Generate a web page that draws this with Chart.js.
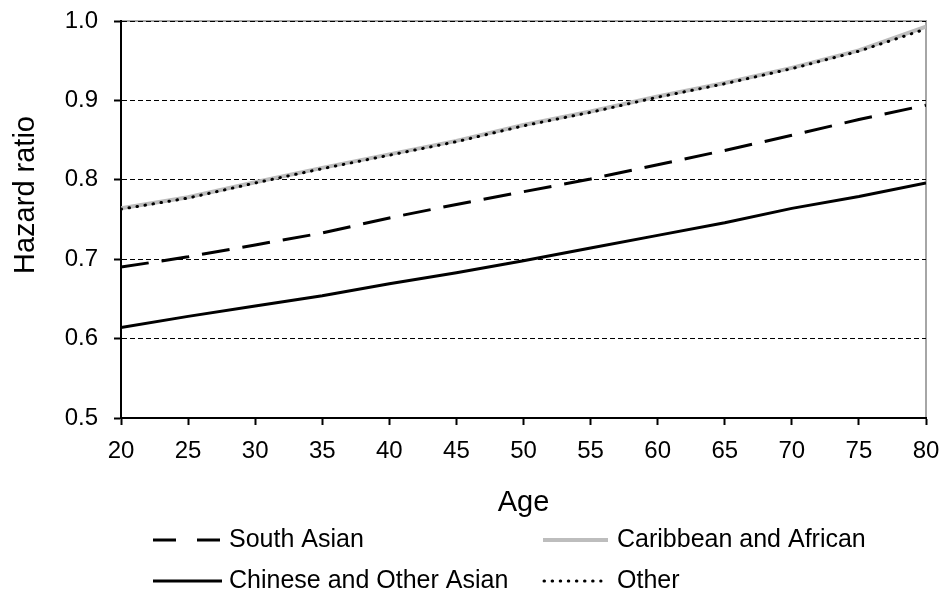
<!DOCTYPE html>
<html lang="en">
<head>
  <meta charset="UTF-8" />
  <title>Hazard ratio by age</title>
  <script src="https://cdn.jsdelivr.net/npm/chart.js"></script>
  <style>
    html, body { margin: 0; padding: 0; background: #fff; }
  </style>
</head>
<body>
  <canvas id="hrChart" width="942" height="592"></canvas>

  <script>
    // values, every 5 years of age
    const ages = [20, 25, 30, 35, 40, 45, 50, 55, 60, 65, 70, 75, 80];
    const southAsian = [0.690, 0.703, 0.718, 0.733, 0.752, 0.769, 0.785, 0.801, 0.819, 0.837, 0.856, 0.876, 0.894];
    const chineseOtherAsian = [0.614, 0.628, 0.641, 0.654, 0.669, 0.683, 0.698, 0.714, 0.730, 0.746, 0.764, 0.779, 0.796];
    const caribbeanAfrican = [0.764, 0.778, 0.797, 0.815, 0.832, 0.849, 0.869, 0.886, 0.905, 0.922, 0.941, 0.963, 0.993];
    const other = [0.763, 0.777, 0.796, 0.814, 0.831, 0.848, 0.868, 0.885, 0.904, 0.921, 0.940, 0.962, 0.990];

    const FONT = "'Liberation Sans', Arial, sans-serif";
    const GREY = '#bdbdbd';

    const pts = vals => ages.map((a, i) => ({ x: a, y: vals[i] }));

    // legend entries, laid out in two rows like the original
    const legendItems = [
      { label: 'South Asian', color: '#000', width: 3, dash: [23, 21], x: 153, len: 69, tx: 229, row: 0 },
      { label: 'Caribbean and African', color: GREY, width: 4, dash: [], x: 543, len: 65, tx: 617, row: 0 },
      { label: 'Chinese and Other Asian', color: '#000', width: 3, dash: [], x: 153, len: 69, tx: 229, row: 1 },
      { label: 'Other', color: '#000', width: 3, dash: [0.5, 7.6], x: 544, len: 57, tx: 617, row: 1, round: true }
    ];
    const rowY = [540, 581];

    const extras = {
      id: 'extras',
      beforeDraw(chart) {
        // grey frame on top and right
        const { ctx, chartArea: a } = chart;
        ctx.save();
        ctx.strokeStyle = '#a6a6a6';
        ctx.lineWidth = 2;
        ctx.beginPath();
        ctx.moveTo(a.left, a.top);
        ctx.lineTo(a.right, a.top);
        ctx.lineTo(a.right, a.bottom);
        ctx.stroke();
        ctx.restore();
      },
      afterDraw(chart) {
        const ctx = chart.ctx;
        ctx.save();
        // y axis title (sits a bit above centre in the original)
        ctx.fillStyle = '#000';
        ctx.font = '29px ' + FONT;
        ctx.textAlign = 'center';
        ctx.textBaseline = 'middle';
        ctx.translate(26, 195);
        ctx.rotate(-Math.PI / 2);
        ctx.fillText('Hazard ratio', 0, 0);
        ctx.restore();

        // legend
        ctx.save();
        ctx.font = '25px ' + FONT;
        ctx.textBaseline = 'middle';
        ctx.textAlign = 'left';
        legendItems.forEach(it => {
          const y = rowY[it.row];
          ctx.strokeStyle = it.color;
          ctx.lineWidth = it.width;
          ctx.lineCap = it.round ? 'round' : 'butt';
          ctx.setLineDash(it.dash);
          ctx.beginPath();
          ctx.moveTo(it.x, y);
          ctx.lineTo(it.x + it.len, y);
          ctx.stroke();
          ctx.setLineDash([]);
          ctx.fillStyle = '#000';
          ctx.fillText(it.label, it.tx, y);
        });
        ctx.restore();
      }
    };

    new Chart(document.getElementById('hrChart'), {
      type: 'line',
      data: {
        datasets: [
          {
            label: 'Other',
            data: pts(other),
            borderColor: '#000',
            borderWidth: 3,
            borderDash: [0.5, 7.6],
            borderCapStyle: 'round',
            order: 0
          },
          {
            label: 'South Asian',
            data: pts(southAsian),
            borderColor: '#000',
            borderWidth: 3,
            borderDash: [28, 13],
            order: 1
          },
          {
            label: 'Chinese and Other Asian',
            data: pts(chineseOtherAsian),
            borderColor: '#000',
            borderWidth: 3,
            order: 2
          },
          {
            label: 'Caribbean and African',
            data: pts(caribbeanAfrican),
            borderColor: GREY,
            borderWidth: 4,
            order: 5
          }
        ]
      },
      options: {
        responsive: false,
        animation: false,
        events: [],
        elements: { point: { radius: 0 }, line: { tension: 0, fill: false } },
        layout: { padding: { top: 21, right: 16, left: 0, bottom: 0 } },
        plugins: { legend: { display: false }, tooltip: { enabled: false } },
        scales: {
          x: {
            type: 'linear',
            min: 20,
            max: 80,
            afterFit: s => {
              s.height = 174;
              s.paddingLeft = 0;
              s.paddingRight = 0;
            },
            ticks: {
              stepSize: 5,
              color: '#000',
              padding: 12,
              maxRotation: 0,
              font: { family: FONT, size: 24 }
            },
            grid: { drawOnChartArea: false, drawTicks: true, tickLength: 7, tickWidth: 2, tickColor: '#000' },
            border: { color: '#000', width: 2 },
            title: {
              display: true,
              text: 'Age',
              color: '#000',
              font: { family: FONT, size: 29 },
              padding: { top: 0, bottom: 72 }
            }
          },
          y: {
            min: 0.5,
            max: 1.0,
            afterFit: s => {
              s.width = 121;
              s.paddingTop = 0;
              s.paddingBottom = 0;
            },
            ticks: {
              stepSize: 0.1,
              color: '#000',
              padding: 16,
              font: { family: FONT, size: 24 },
              callback: v => v.toFixed(1)
            },
            grid: { color: '#000', lineWidth: 1, drawTicks: true, tickLength: 7, tickWidth: 2, tickColor: '#000' },
            border: { color: '#000', width: 2, dash: [5, 3] }
          }
        }
      },
      plugins: [extras]
    });
  </script>
</body>
</html>
